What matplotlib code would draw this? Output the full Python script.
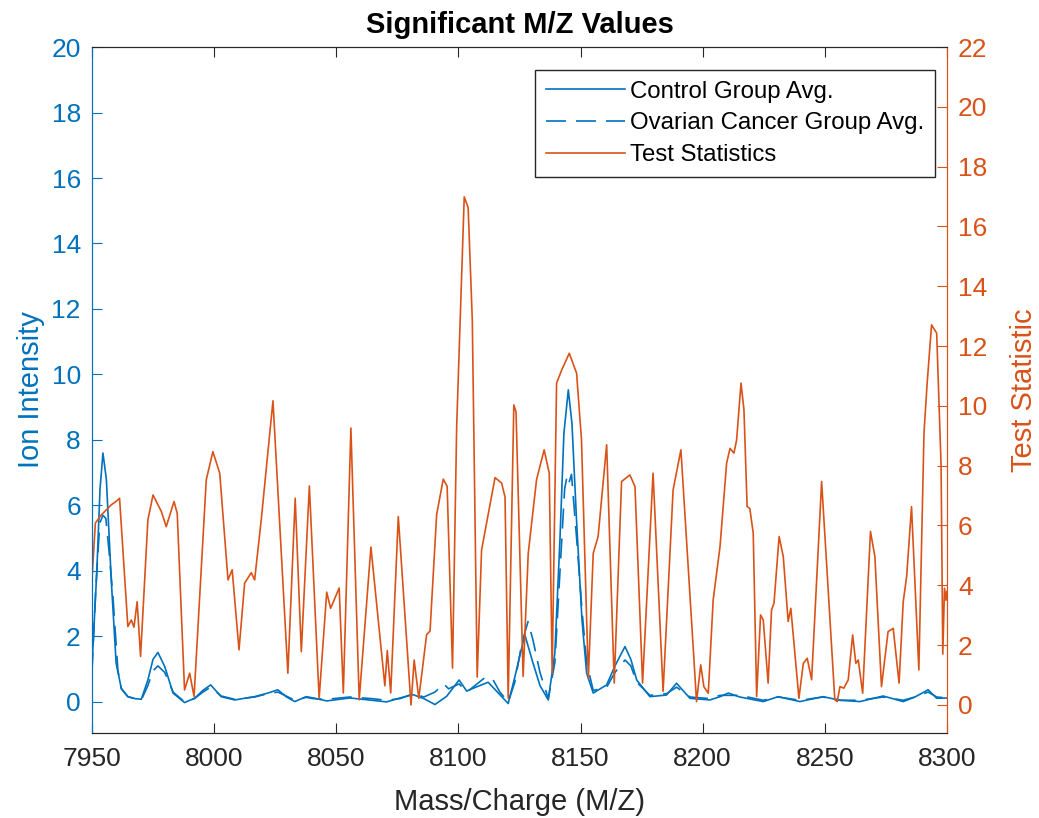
import matplotlib.pyplot as plt

plt.rcParams['font.family'] = ['Liberation Sans', 'DejaVu Sans']

BLUE = '#0072BD'
ORANGE = '#D95319'
DARK = '#262626'

# control group average (solid blue)
ctrl_mz = [7950.0, 7952.0, 7953.3, 7954.5, 7955.9, 7957.9, 7959.9, 7962.0, 7964.7, 7967.6,
           7970.2, 7972.9, 7975.0, 7977.0, 7979.8, 7983.2, 7987.9, 7992.0, 7995.4, 7998.6,
           8002.9, 8008.4, 8016.6, 8022.0, 8026.1, 8029.5, 8033.0, 8037.7, 8040.6, 8046.1,
           8055.6, 8064.5, 8070.6, 8076.1, 8081.5, 8085.9, 8090.4, 8095.2, 8100.3, 8103.4,
           8106.8, 8112.2, 8117.0, 8120.4, 8123.1, 8127.2, 8130.5, 8133.4, 8136.8, 8139.5,
           8141.6, 8143.2, 8145.0, 8146.5, 8148.4, 8150.6, 8152.5, 8155.2, 8160.7, 8164.1,
           8168.2, 8170.6, 8173.0, 8178.4, 8185.2, 8189.3, 8194.8, 8203.0, 8207.1, 8210.5,
           8215.2, 8224.8, 8230.9, 8239.8, 8249.3, 8256.2, 8264.4, 8273.9, 8282.1, 8286.9,
           8292.3, 8295.8, 8300.0]
ctrl_int = [1.1, 4.0, 6.5, 7.6, 6.8, 3.73, 1.18, 0.42, 0.16, 0.1,
            0.08, 0.67, 1.3, 1.51, 1.08, 0.27, -0.02, 0.11, 0.35, 0.52,
            0.16, 0.06, 0.16, 0.27, 0.37, 0.16, 0.01, 0.16, 0.12, 0.03,
            0.12, 0.05, 0.0, 0.12, 0.22, 0.1, -0.08, 0.17, 0.67, 0.33,
            0.44, 0.6, 0.22, -0.05, 0.76, 2.05, 1.2, 0.5, 0.06, 1.5,
            5.0, 8.2, 9.53, 8.5, 5.5, 2.5, 0.88, 0.27, 0.52, 1.1,
            1.69, 1.3, 0.67, 0.16, 0.21, 0.57, 0.11, 0.06, 0.16, 0.27,
            0.15, 0.01, 0.16, 0.01, 0.16, 0.05, 0.01, 0.18, 0.01, 0.15,
            0.37, 0.11, 0.12]

# ovarian cancer group average (dashed blue)
ovar_mz = [7950.0, 7951.6, 7953.2, 7954.5, 7955.7, 7957.0, 7958.6, 7960.6, 7962.0, 7964.7,
           7967.6, 7970.2, 7972.9, 7975.0, 7977.0, 7979.8, 7983.2, 7987.9, 7992.0, 7995.4,
           7998.6, 8002.9, 8008.4, 8016.6, 8022.0, 8026.1, 8029.5, 8033.0, 8037.7, 8040.6,
           8046.1, 8055.6, 8064.5, 8070.6, 8076.1, 8081.5, 8085.9, 8090.4, 8094.0, 8096.0,
           8100.3, 8103.4, 8106.8, 8111.0, 8114.0, 8117.0, 8120.4, 8123.1, 8126.0, 8128.5,
           8130.5, 8133.4, 8136.8, 8139.5, 8141.6, 8143.5, 8144.5, 8145.3, 8146.3, 8148.4,
           8150.6, 8152.5, 8155.2, 8160.7, 8164.1, 8168.2, 8170.6, 8173.0, 8178.4, 8185.2,
           8189.3, 8194.8, 8203.0, 8207.1, 8210.5, 8215.2, 8224.8, 8230.9, 8239.8, 8249.3,
           8256.2, 8264.4, 8273.9, 8282.1, 8286.9, 8292.3, 8295.8, 8300.0]
ovar_int = [0.9, 3.5, 5.46, 5.7, 5.6, 4.6, 3.2, 0.98, 0.4, 0.16,
            0.1, 0.06, 0.5, 0.95, 1.1, 0.9, 0.3, 0.0, 0.1, 0.3,
            0.45, 0.18, 0.08, 0.15, 0.25, 0.3, 0.18, 0.05, 0.14, 0.1,
            0.08, 0.15, 0.1, 0.05, 0.1, 0.25, 0.15, 0.3, 0.55, 0.4,
            0.55, 0.3, 0.5, 0.75, 0.7, 0.3, 0.0, 0.6, 1.8, 2.45,
            1.9, 0.9, 0.1, 1.2, 4.0, 6.5, 6.9, 6.7, 6.95, 5.0,
            2.8, 1.2, 0.35, 0.45, 0.9, 1.28, 1.1, 0.6, 0.2, 0.25,
            0.45, 0.15, 0.1, 0.2, 0.2, 0.2, 0.05, 0.15, 0.05, 0.15,
            0.05, 0.05, 0.15, 0.05, 0.15, 0.3, 0.15, 0.12]

# test statistic (orange, right axis)
test_mz = [7950.0, 7951.4, 7953.8, 7957.9, 7959.8, 7961.3, 7964.7, 7966.1, 7967.2, 7968.5,
           7969.9, 7972.9, 7975.0, 7978.4, 7980.4, 7983.6, 7984.9, 7987.9, 7990.0, 7991.8,
           7996.8, 7999.5, 8002.3, 8005.7, 8007.4, 8010.2, 8012.5, 8015.2, 8016.6, 8019.3,
           8024.1, 8030.2, 8033.2, 8035.7, 8039.0, 8043.0, 8046.1, 8047.7, 8051.2, 8052.9,
           8056.0, 8059.4, 8064.2, 8069.9, 8070.9, 8072.3, 8075.4, 8080.6, 8081.9, 8083.8,
           8087.0, 8088.4, 8091.1, 8093.8, 8095.4, 8097.6, 8099.3, 8102.4, 8104.0, 8105.7,
           8107.7, 8109.5, 8115.0, 8117.7, 8119.1, 8120.4, 8122.7, 8123.6, 8126.5, 8128.6,
           8132.0, 8135.1, 8137.2, 8138.4, 8140.2, 8142.3, 8145.4, 8148.4, 8150.4, 8153.2,
           8155.2, 8157.2, 8160.7, 8163.8, 8166.8, 8170.2, 8172.3, 8175.4, 8179.7, 8183.8,
           8187.9, 8191.1, 8197.5, 8199.2, 8200.5, 8202.3, 8204.3, 8207.1, 8209.8, 8211.2,
           8212.8, 8213.9, 8215.7, 8216.9, 8218.2, 8219.3, 8220.7, 8222.1, 8223.7, 8224.8,
           8226.8, 8228.2, 8229.2, 8231.3, 8233.0, 8235.0, 8236.1, 8239.4, 8241.2, 8242.8,
           8244.6, 8248.7, 8254.1, 8255.1, 8256.2, 8257.8, 8259.6, 8261.4, 8262.7, 8263.7,
           8265.5, 8268.7, 8270.5, 8273.2, 8275.9, 8278.0, 8280.4, 8282.1, 8283.5, 8285.5,
           8288.5, 8290.6, 8291.9, 8293.7, 8295.8, 8297.6, 8298.3, 8299.0, 8299.6, 8300.0]
test_stat = [4.2, 6.08, 6.35, 6.69, 6.8, 6.91, 2.62, 2.84, 2.6, 3.45,
             1.62, 6.19, 7.02, 6.47, 5.96, 6.8, 6.41, 0.5, 1.06, 0.28,
             7.53, 8.47, 7.75, 4.18, 4.52, 1.84, 4.07, 4.42, 4.18, 6.19,
             10.17, 1.06, 6.91, 1.78, 7.32, 0.22, 3.77, 3.23, 3.91, 0.4,
             9.26, 0.17, 5.28, 0.64, 1.82, 0.4, 6.3, 0.0, 1.5, 0.22,
             2.35, 2.47, 6.36, 7.55, 7.31, 1.23, 9.31, 16.99, 16.63, 12.86,
             0.93, 5.18, 7.6, 7.42, 6.95, 0.22, 10.03, 9.8, 0.95, 5.07,
             7.53, 8.53, 7.75, 1.06, 10.76, 11.2, 11.76, 11.09, 8.86, 0.89,
             5.07, 5.63, 8.7, 0.73, 7.47, 7.69, 7.3, 0.73, 7.75, 0.45,
             7.19, 8.53, 0.11, 1.34, 0.61, 0.39, 3.51, 5.29, 8.08, 8.58,
             8.42, 8.86, 10.76, 9.87, 6.63, 6.57, 5.74, 0.28, 3.01, 2.84,
             0.73, 3.18, 3.4, 5.63, 4.96, 2.79, 3.23, 0.22, 1.39, 1.56,
             0.84, 7.47, 0.17, 0.11, 0.61, 0.56, 0.84, 2.34, 1.39, 1.5,
             0.39, 5.8, 4.96, 0.61, 2.45, 2.56, 0.73, 3.45, 4.29, 6.63,
             1.17, 9.09, 10.76, 12.71, 12.43, 8.0, 1.7, 3.9, 3.5, 3.8]

fig = plt.figure(figsize=(10.39, 8.18), dpi=100)
ax1 = fig.add_axes([0.0885, 0.1039, 0.8229, 0.8386])
ax2 = ax1.twinx()

l1, = ax1.plot(ctrl_mz, ctrl_int, color=BLUE, lw=1.2, label='Control Group Avg.')
l2, = ax1.plot(ovar_mz, ovar_int, color=BLUE, lw=1.2, dashes=(12, 6),
               label='Ovarian Cancer Group Avg.')
l3, = ax2.plot(test_mz, test_stat, color=ORANGE, lw=1.2, label='Test Statistics')

ax1.set_xlim(7950, 8300)
ax1.set_ylim(-0.95, 20)
ax2.set_ylim(-0.94, 22)
ax1.set_xticks(range(7950, 8301, 50))
ax1.set_yticks(range(0, 21, 2))
ax2.set_yticks(range(0, 23, 2))

ax1.tick_params(axis='x', direction='in', length=7, top=True, colors=DARK,
                labelsize=19, pad=10)
ax1.tick_params(axis='y', direction='in', length=7, colors=BLUE, labelsize=19, pad=8)
ax2.tick_params(axis='y', direction='in', length=7, colors=ORANGE, labelsize=19, pad=8)

for ax in (ax1, ax2):
    ax.spines['top'].set_color(DARK)
    ax.spines['bottom'].set_color(DARK)
    ax.spines['left'].set_color(BLUE)
    ax.spines['right'].set_color(ORANGE)

ax1.set_xlabel('Mass/Charge (M/Z)', fontsize=21, color=DARK, labelpad=12)
ax1.set_ylabel('Ion Intensity', fontsize=21, color=BLUE, labelpad=5)
ax2.set_ylabel('Test Statistic', fontsize=21, color=ORANGE, labelpad=16)
ax1.set_title('Significant M/Z Values', fontsize=21, fontweight='bold', color='black', pad=10)

leg = ax2.legend([l1, l2, l3], [l1.get_label(), l2.get_label(), l3.get_label()],
                 loc='upper right', bbox_to_anchor=(0.986, 0.9665), borderaxespad=0,
                 fontsize=17.3, frameon=True, fancybox=False, framealpha=1,
                 edgecolor=DARK, handlelength=3.3, handletextpad=0.2,
                 borderpad=0.45, labelspacing=0.4)
leg.get_frame().set_linewidth(1.0)

fig.savefig('out.png', dpi=100)
